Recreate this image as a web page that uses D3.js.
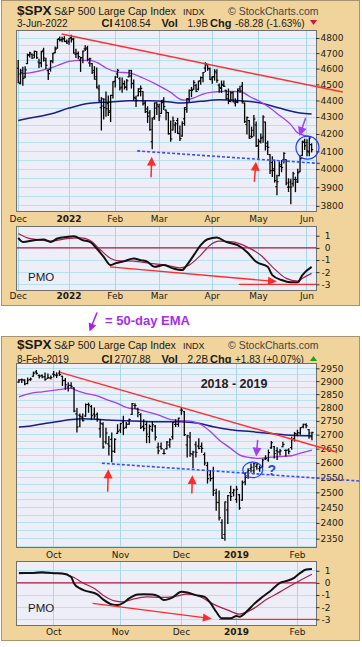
<!DOCTYPE html>
<html>
<head>
<meta charset="utf-8">
<script src="https://cdn.jsdelivr.net/npm/d3@7"></script>
<style>
  body { margin: 0; background: #fff; }
  svg { display: block; }
</style>
</head>
<body>
<svg id="chart" width="362" height="647"></svg>
<script>
// ---- 2022 chart: daily OHLC, 1-Dec-2021 .. 3-Jun-2022 (trading-day index 0..127)
const topOpen = [4602,4505,4589,4548,4632,4690,4691,4687,4711,4642,4637,4719,4653,4587,4595,4645,4704,4733,4796,4789,4795,4776,
  4778,4804,4788,4693,4698,4655,4670,4728,4734,4637,4632,4588,4548,4472,4357,4367,4408,4381,4337,4431,
  4519,4566,4535,4483,4505,4481,4548,4553,4506,4413,4429,4455,4456,4385,4332,4325,4155,4298,4354,
  4363,4322,4401,4342,4327,4202,4223,4252,4279,4202,4188,4289,4345,4407,4462,4469,4493,4470,4523,4542,4603,4624,4600,
  4540,4548,4573,4495,4475,4494,4463,4437,4395,4449,4385,4390,4473,4489,4385,4256,4279,4187,4222,4253,
  4131,4159,4181,4270,4129,4081,4036,3991,3903,3963,4014,4052,4052,3900,3928,3919,3942,3929,3985,4077,4151,
  4150,4096,4138];
const topHigh = [4652,4595,4608,4612,4694,4705,4695,4713,4711,4660,4712,4732,4666,4592,4651,4699,4740,4791,4807,4805,4809,4787,
  4797,4819,4798,4726,4708,4673,4714,4749,4745,4666,4632,4612,4603,4495,4418,4411,4453,4428,4432,4516,
  4550,4595,4542,4540,4521,4531,4590,4589,4527,4426,4473,4490,4456,4395,4362,4339,4294,4385,4388,
  4378,4401,4417,4342,4327,4277,4300,4268,4292,4247,4272,4357,4412,4465,4481,4522,4501,4520,4546,4575,4637,4627,4603,
  4550,4593,4593,4503,4521,4521,4464,4471,4453,4452,4411,4471,4489,4512,4385,4300,4279,4240,4309,4270,
  4169,4200,4308,4270,4158,4081,4069,4050,3965,4039,4047,4091,4052,3946,3943,3982,3955,3999,4075,4158,4169,
  4166,4177,4143];
const topLow = [4510,4504,4495,4541,4632,4675,4665,4670,4666,4607,4611,4648,4600,4531,4584,4638,4703,4733,4780,4775,4776,4765,
  4758,4774,4700,4671,4663,4582,4638,4717,4650,4615,4568,4533,4477,4396,4223,4288,4305,4309,4273,4415,
  4484,4544,4465,4451,4471,4465,4548,4477,4402,4364,4429,4429,4373,4328,4268,4222,4115,4287,4315,
  4279,4322,4345,4284,4199,4157,4223,4209,4202,4162,4187,4251,4329,4390,4424,4469,4456,4465,4501,4517,4582,4589,4530,
  4507,4527,4514,4451,4450,4487,4408,4381,4392,4392,4367,4387,4452,4385,4268,4200,4175,4178,4188,4128,
  4062,4147,4152,4107,4082,3975,3959,3928,3859,3963,3985,4034,3913,3877,3811,3906,3876,3925,3985,4077,4110,
  4074,4074,4096];
const topClose = [4513,4577,4538,4592,4686,4701,4668,4712,4669,4634,4710,4668,4621,4568,4650,4697,4726,4791,4786,4793,4778,4766,
  4797,4794,4701,4696,4677,4670,4713,4726,4660,4663,4577,4533,4483,4398,4410,4357,4350,4327,4432,4516,
  4546,4589,4477,4501,4484,4522,4587,4504,4419,4402,4472,4475,4380,4349,4305,4226,4288,4385,4374,
  4306,4387,4363,4329,4201,4171,4278,4260,4204,4173,4262,4357,4412,4463,4461,4512,4456,4520,4543,4575,4632,4602,4530,
  4546,4583,4526,4481,4501,4488,4413,4397,4447,4393,4392,4463,4459,4394,4272,4297,4175,4184,4288,4132,
  4155,4175,4300,4147,4123,3991,4001,3936,3930,4024,4008,4088,3923,3901,3901,3974,3941,3979,4058,4158,4132,
  4101,4176,4109];

const topTickLabels = ['Dec', '2022', 'Feb', 'Mar', 'Apr', 'May', 'Jun'];
const topTickIdx = [0, 22, 42, 61, 84, 104, 125];
const topPriceTicks = [3800, 3900, 4000, 4100, 4200, 4300, 4400, 4500, 4600, 4700, 4800];

// overlays (index, value)
const topEmaIdx = [0,5,14,18,22,27,31,34,38,43,48,54,60,66,70,72,76,80,84,89,93,97,100,105,109,113,118,121,127];
const topEmaVal = [4565,4572,4604,4625,4647,4653,4653,4640,4604,4578,4572,4540,4498,4450,4409,4402,4416,4440,4452,4457,4457,4451,4426,4391,4354,4311,4255,4206,4182];
const topSmaIdx = [0,5,14,22,31,40,48,57,66,70,79,87,96,105,113,122,127];
const topSmaVal = [4280,4294,4318,4354,4383,4391,4399,4399,4391,4385,4395,4405,4399,4385,4354,4324,4318];
const topPmoIdx = [0,2,7,11,14,17,21,24,28,31,34,37,40,42,46,50,53,56,59,63,67,71,73,76,79,82,86,90,95,99,103,108,110,114,118,121,123,127];
const topPmoVal = [0.82,0.49,0.63,0.69,0.49,0.77,0.9,0.96,0.63,0.49,-0.05,-0.74,-1.42,-1.28,-1.09,-0.87,-1.01,-1.15,-1.56,-1.42,
  -1.69,-1.83,-1.42,-0.6,0.22,0.71,0.85,0.49,0.22,-0.33,-1.15,-1.56,-2.24,-2.65,-2.84,-2.84,-2.24,-1.56];
const topSigIdx = [0,4,8,14,21,27,31,35,40,44,50,57,64,70,74,79,83,87,93,99,105,110,116,121,123,127];
const topSigVal = [1.18,0.82,0.69,0.55,0.77,0.82,0.63,-0.05,-0.87,-1.07,-1.09,-1.28,-1.42,-1.64,-1.42,-0.6,0.22,0.55,0.49,0.08,-0.6,-1.56,-2.51,-2.73,-2.51,-2.1];

// ---- 2018-2019 chart: daily OHLC, 13-Sep-2018 .. 8-Feb-2019 (index 0..101)
const botOpen = [2896,2906,2904,2891,2906,2919,2936,2922,2922,2917,2911,2911,
  2927,2923,2931,2919,2903,2877,2883,2874,2776,2771,2764,2768,2811,2803,2775,2774,2721,2738,2674,2667,2683,2641,2705,
  2717,2746,2727,2738,2774,2807,2794,2773,2730,2737,2693,2718,2731,2655,2657,2633,2650,2663,2692,2737,2737,
  2790,2784,2663,2691,2630,2664,2659,2658,2629,2591,2559,2548,2497,2466,2401,2363,2442,2499,2499,
  2477,2492,2474,2535,2568,2580,2573,2588,2580,2585,2614,2610,2653,2657,2643,2638,2657,2644,2645,2654,2686,
  2702,2706,2728,2736,2718,2692];
const botHigh = [2906,2908,2905,2912,2912,2935,2941,2924,2924,2932,2928,2920,
  2937,2932,2940,2919,2910,2894,2894,2874,2796,2775,2775,2813,2816,2807,2798,2779,2754,2743,2723,2693,2706,2685,2736,
  2741,2767,2744,2757,2815,2814,2797,2776,2754,2747,2735,2747,2733,2670,2670,2647,2675,2685,2744,2754,2760,
  2800,2785,2698,2708,2641,2674,2685,2670,2635,2602,2573,2585,2510,2504,2410,2468,2489,2520,2510,
  2520,2493,2538,2566,2580,2596,2598,2596,2589,2613,2625,2645,2675,2658,2653,2647,2673,2645,2650,2691,2708,
  2716,2725,2738,2740,2719,2709];
const botLow = [2896,2895,2886,2890,2903,2919,2928,2912,2913,2903,2910,2908,
  2917,2914,2922,2883,2869,2862,2874,2784,2710,2729,2750,2767,2782,2756,2760,2749,2691,2651,2667,2628,2604,2636,2705,
  2708,2700,2724,2738,2774,2795,2765,2722,2714,2671,2671,2712,2681,2632,2649,2631,2649,2655,2684,2730,2730,
  2774,2697,2621,2623,2583,2621,2650,2637,2593,2531,2538,2489,2441,2409,2351,2345,2398,2473,2488,
  2467,2444,2474,2525,2547,2569,2563,2578,2571,2585,2612,2606,2651,2617,2612,2628,2657,2624,2632,2648,2677,
  2696,2701,2725,2725,2687,2682];
const botClose = [2904,2905,2889,2904,2908,2931,2930,2919,2916,2906,2914,2914,
  2925,2923,2926,2902,2886,2884,2880,2786,2728,2767,2751,2810,2809,2769,2768,2756,2741,2656,2706,2659,2641,2683,2712,
  2740,2723,2738,2755,2814,2807,2781,2726,2722,2702,2730,2736,2691,2642,2650,2633,2673,2682,2744,2738,2760,
  2790,2700,2696,2633,2638,2637,2651,2651,2600,2546,2546,2507,2467,2417,2351,2468,2489,2486,2507,
  2510,2448,2532,2550,2574,2585,2597,2596,2583,2610,2616,2636,2671,2633,2639,2642,2665,2644,2640,2681,2704,
  2707,2725,2738,2732,2706,2708];

const botTickLabels = ['Oct', 'Nov', 'Dec', '2019', 'Feb'];
const botTickIdx = [12, 35, 56, 75, 96];
const botPriceTicks = [2350, 2400, 2450, 2500, 2550, 2600, 2650, 2700, 2750, 2800, 2850, 2900, 2950];

const botEmaIdx = [0,4,8,13,18,20,23,27,30,34,37,41,44,48,52,56,60,63,66,69,73,76,80,83,87,90,94,97,101];
const botEmaVal = [2840,2853,2859,2866,2872,2863,2853,2843,2830,2815,2800,2793,2784,2772,2756,2751,2747,2735,2711,2681,2651,2628,2618,2616,2620,2622,2625,2634,2645];
const botSmaIdx = [0,4,8,13,18,22,27,31,39,48,56,62,67,73,80,87,92,101];
const botSmaVal = [2728,2731,2739,2747,2755,2758,2756,2753,2750,2747,2747,2741,2729,2718,2711,2704,2699,2696];
const botPmoIdx = [0,5,8,12,15,18,19,21,23,27,29,32,34,36,38,41,43,46,48,50,53,56,58,61,64,66,68,70,73,75,76,79,81,84,87,90,92,95,97,99,101];
const botPmoVal = [0.82,0.82,0.88,0.8,0.77,0.49,-0.05,-0.46,-0.66,-0.95,-1.36,-1.77,-1.83,-1.64,-1.28,-0.95,-0.93,-0.95,-1.09,-1.42,
  -1.2,-0.74,-0.79,-1.01,-1.15,-1.64,-2.38,-2.92,-2.92,-2.73,-2.79,-2.24,-1.75,-1.15,-0.6,0,0.14,0.44,0.82,1.1,1.15];
const botSigIdx = [0,8,15,19,22,26,29,33,36,39,44,49,53,58,62,67,72,76,81,85,90,95,101];
const botSigVal = [0.77,0.82,0.77,0.44,0,-0.46,-1.01,-1.48,-1.56,-1.36,-1.15,-1.2,-1.15,-0.93,-1.09,-1.75,-2.24,-2.57,-2.1,-1.42,-0.74,-0.05,0.71];

const pmoTicks = [1, 0, -1, -2, -3];

const TAN = '#f0d49b', FRAME = '#a89370', PLOT_BG = '#eeeef8', GRID = '#b4e2ef', VGRID = '#a8d8e8';
const BORDER = '#707070', NAVY = '#1c1c8a', PURPLE = '#a040f0', RED = '#ff2a2a', MAROON = '#a8204c';
const HEAD_FONT = '"Liberation Sans", Arial, sans-serif';
const AXIS_FONT = '"DejaVu Sans", Verdana, sans-serif';
const PL = 17, PR = 316;

const svg = d3.select('#chart');

function arrow(g, x1, y1, x2, y2, color, headLen, headW, sw) {
  const len = Math.hypot(x2 - x1, y2 - y1);
  const ux = (x2 - x1) / len, uy = (y2 - y1) / len;
  const bx = x2 - ux * headLen, by = y2 - uy * headLen;
  g.append('line').attr('x1', x1).attr('y1', y1).attr('x2', bx + ux).attr('y2', by + uy)
    .attr('stroke', color).attr('stroke-width', sw);
  g.append('polygon')
    .attr('points', [[x2, y2], [bx - uy * headW / 2, by + ux * headW / 2], [bx + uy * headW / 2, by - ux * headW / 2]].join(' '))
    .attr('fill', color);
}

function drawPanel(p) {
  const x = d3.scaleLinear().domain(p.xDomain).range([PL, PR]);
  const y = d3.scaleLog().domain(p.yDomain).range([p.priceBot, p.priceTop]);
  const yp = d3.scaleLinear().domain([-3.47, 1.72]).range([p.pmoBot, p.pmoTop]);
  const g = svg.append('g');

  g.append('rect').attr('x', 1.5).attr('y', p.top + 0.5).attr('width', 358).attr('height', p.bottom - p.top)
    .attr('fill', TAN).attr('stroke', FRAME);

  // header lines
  const h = g.append('g').attr('font-family', HEAD_FONT).attr('fill', '#1a1a1a');
  h.append('text').attr('x', 17).attr('y', p.head1).attr('font-size', 13.5).attr('font-weight', 'bold').text('$SPX');
  h.append('text').attr('x', 54).attr('y', p.head1).attr('font-size', 10.5).text('S&P 500 Large Cap Index');
  h.append('text').attr('x', 183).attr('y', p.head1).attr('font-size', 9).text('INDX');
  h.append('text').attr('x', 228).attr('y', p.head1).attr('font-size', 10.5).attr('fill', '#444').text('© StockCharts.com');
  h.append('text').attr('x', 17).attr('y', p.head2).attr('font-size', 10).text(p.date);
  [['Cl', 101.5, p.closeText, 114.5],
   ['Vol', 161.5, p.volText, 187.5],
   ['Chg', 210, p.chgText, 235]].forEach(([lab, lx, val, vx]) => {
    h.append('text').attr('x', lx).attr('y', p.head2).attr('font-size', 11).attr('font-weight', 'bold').text(lab);
    h.append('text').attr('x', vx).attr('y', p.head2).attr('font-size', 10).text(val);
  });
  const ty = p.head2 - 4;
  h.append('polygon')
    .attr('points', p.up ? [[310, ty + 2.5], [317, ty + 2.5], [313.5, ty - 2.5]].join(' ')
                         : [[310, ty - 2.5], [317, ty - 2.5], [313.5, ty + 2.5]].join(' '))
    .attr('fill', p.up ? '#1aa31a' : '#d4143c');

  // price pane
  const pg = g.append('g');
  pg.append('rect').attr('x', PL).attr('y', p.priceTop).attr('width', PR - PL).attr('height', p.priceBot - p.priceTop)
    .attr('fill', PLOT_BG);
  const minor = d3.range(Math.ceil(p.yDomain[0] / p.minorStep) * p.minorStep, p.yDomain[1], p.minorStep);
  pg.append('g').attr('stroke', GRID).attr('shape-rendering', 'crispEdges')
    .selectAll('line').data(minor).join('line')
    .attr('x1', PL).attr('x2', PR).attr('y1', d => y(d)).attr('y2', d => y(d));
  pg.append('g').attr('stroke', VGRID).attr('shape-rendering', 'crispEdges')
    .selectAll('line').data(p.tickIdx).join('line')
    .attr('x1', d => x(d)).attr('x2', d => x(d)).attr('y1', p.priceTop).attr('y2', p.priceBot);

  const curve = (xs, ys) => d3.line().x(d => xs(d[0])).y(d => ys(d[1])).curve(d3.curveMonotoneX);
  pg.append('path').datum(d3.zip(p.smaIdx, p.smaVal)).attr('d', curve(x, y))
    .attr('fill', 'none').attr('stroke', NAVY).attr('stroke-width', 1.5);
  pg.append('path').datum(d3.zip(p.emaIdx, p.emaVal)).attr('d', curve(x, y))
    .attr('fill', 'none').attr('stroke', PURPLE).attr('stroke-width', 1.3);

  const bars = pg.append('g').attr('stroke', '#000');
  bars.selectAll('line.hl').data(p.close).join('line').attr('class', 'hl').attr('stroke-width', 1.3)
    .attr('x1', (d, i) => x(i)).attr('x2', (d, i) => x(i))
    .attr('y1', (d, i) => y(p.high[i]) - 0.5).attr('y2', (d, i) => y(p.low[i]) + 0.5);
  bars.selectAll('line.op').data(p.open).join('line').attr('class', 'op').attr('stroke-width', 1.1)
    .attr('x1', (d, i) => x(i) - 1.6).attr('x2', (d, i) => x(i)).attr('y1', d => y(d)).attr('y2', d => y(d));
  bars.selectAll('line.cl').data(p.close).join('line').attr('class', 'cl').attr('stroke-width', 1.1)
    .attr('x1', (d, i) => x(i)).attr('x2', (d, i) => x(i) + 1.6).attr('y1', d => y(d)).attr('y2', d => y(d));

  pg.append('rect').attr('x', PL - 0.5).attr('y', p.priceTop - 0.5).attr('width', PR - PL + 1).attr('height', p.priceBot - p.priceTop + 1)
    .attr('fill', 'none').attr('stroke', BORDER);

  const ay = g.append('g').attr('transform', `translate(${PR},0)`)
    .call(d3.axisRight(y).tickValues(p.priceTicks).tickFormat(d => String(d)).tickSizeInner(3.5).tickSizeOuter(0).tickPadding(1));
  ay.select('.domain').remove();
  ay.selectAll('line').attr('stroke', '#333');
  ay.selectAll('text').attr('font-family', AXIS_FONT).attr('font-size', 9).attr('fill', '#1a1a1a');

  // month labels
  [p.midLabel, p.botLabel].forEach(ly => {
    g.append('g').selectAll('text').data(p.tickLabels).join('text')
      .attr('x', (d, i) => x(p.tickIdx[i])).attr('y', ly).attr('text-anchor', 'middle')
      .attr('font-family', AXIS_FONT).attr('font-size', 9).attr('fill', '#1a1a1a')
      .attr('font-weight', d => /^\d{4}$/.test(d) ? 'bold' : 'normal')
      .text(d => d);
  });

  // PMO pane
  const mg = g.append('g');
  mg.append('rect').attr('x', PL).attr('y', p.pmoTop).attr('width', PR - PL).attr('height', p.pmoBot - p.pmoTop)
    .attr('fill', PLOT_BG);
  mg.append('g').attr('stroke', GRID).attr('shape-rendering', 'crispEdges')
    .selectAll('line').data(pmoTicks.filter(d => d !== 0)).join('line')
    .attr('x1', PL).attr('x2', PR).attr('y1', d => yp(d)).attr('y2', d => yp(d));
  mg.append('g').attr('stroke', VGRID).attr('shape-rendering', 'crispEdges')
    .selectAll('line').data(p.tickIdx).join('line')
    .attr('x1', d => x(d)).attr('x2', d => x(d)).attr('y1', p.pmoTop).attr('y2', p.pmoBot);
  mg.append('line').attr('x1', PL).attr('x2', PR).attr('y1', yp(0)).attr('y2', yp(0))
    .attr('stroke', '#b0103c').attr('stroke-width', 1.2);
  mg.append('line').attr('x1', x(p.floorFrom)).attr('x2', PR).attr('y1', yp(-3)).attr('y2', yp(-3))
    .attr('stroke', RED).attr('stroke-width', 1.3);
  mg.append('path').datum(d3.zip(p.sigIdx, p.sigVal)).attr('d', curve(x, yp))
    .attr('fill', 'none').attr('stroke', MAROON).attr('stroke-width', 1.2);
  mg.append('path').datum(d3.zip(p.pmoIdx, p.pmoVal)).attr('d', curve(x, yp))
    .attr('fill', 'none').attr('stroke', '#111').attr('stroke-width', 2);
  arrow(mg, x(p.pmoArrow[0]), yp(p.pmoArrow[1]), x(p.pmoArrow[2]), yp(p.pmoArrow[3]), RED, 9, 8, 1.3);
  mg.append('rect').attr('x', PL - 0.5).attr('y', p.pmoTop - 0.5).attr('width', PR - PL + 1).attr('height', p.pmoBot - p.pmoTop + 1)
    .attr('fill', 'none').attr('stroke', BORDER);
  mg.append('text').attr('x', 28).attr('y', p.pmoLabelY).attr('font-family', HEAD_FONT).attr('font-size', 11.5)
    .attr('fill', '#1a1a1a').text('PMO');

  const ap = g.append('g').attr('transform', `translate(${PR},0)`)
    .call(d3.axisRight(yp).tickValues(pmoTicks).tickFormat(d => String(d)).tickSizeInner(3.5).tickSizeOuter(0).tickPadding(1));
  ap.select('.domain').remove();
  ap.selectAll('line').attr('stroke', '#333');
  ap.selectAll('text').attr('font-family', AXIS_FONT).attr('font-size', 9).attr('fill', '#1a1a1a')
    .attr('text-anchor', 'end').attr('x', 14.5);

  // annotations
  const an = g.append('g');
  an.append('line').attr('x1', x(p.redLine[0])).attr('y1', y(p.redLine[1])).attr('x2', x(p.redLine[2])).attr('y2', y(p.redLine[3]))
    .attr('stroke', '#ff3030').attr('stroke-width', 1.5);
  an.append('line').attr('x1', x(p.blueLine[0])).attr('y1', y(p.blueLine[1])).attr('x2', x(p.blueLine[2])).attr('y2', y(p.blueLine[3]))
    .attr('stroke', '#3a4cff').attr('stroke-width', 1.6).attr('stroke-dasharray', '3,2');
  p.upArrows.forEach(a => arrow(an, x(a[0]), y(a[1]), x(a[2]), y(a[3]), RED, 9, 9, 1.5));
  arrow(an, x(p.purpleArrow[0]), y(p.purpleArrow[1]), x(p.purpleArrow[2]), y(p.purpleArrow[3]), PURPLE, 9, 9, 1.5);
  an.append('ellipse').attr('cx', x(p.ring[0])).attr('cy', y(p.ring[1])).attr('rx', p.ring[2]).attr('ry', p.ring[3])
    .attr('fill', 'none').attr('stroke', '#1f3cff').attr('stroke-width', 1.2);

  return { x, y, g };
}

drawPanel({
  top: 0, bottom: 305, head1: 15, head2: 26.5, priceTop: 31, priceBot: 211, midLabel: 222,
  pmoTop: 227, pmoBot: 290, botLabel: 298.5, pmoLabelY: 281,
  xDomain: [-0.52, 128.9], yDomain: [3773, 4847], minorStep: 50,
  date: '3-Jun-2022', closeText: '4108.54', volText: '1.9B', chgText: '-68.28 (-1.63%)', up: false,
  open: topOpen, high: topHigh, low: topLow, close: topClose,
  tickLabels: topTickLabels, tickIdx: topTickIdx, priceTicks: topPriceTicks,
  emaIdx: topEmaIdx, emaVal: topEmaVal, smaIdx: topSmaIdx, smaVal: topSmaVal,
  pmoIdx: topPmoIdx, pmoVal: topPmoVal, sigIdx: topSigIdx, sigVal: topSigVal,
  floorFrom: 95.5, pmoArrow: [39.7, -1.56, 112, -2.78],
  redLine: [18.8, 4827, 140.5, 4452], blueLine: [51.5, 4102, 130.6, 4031],
  upArrows: [[57.5, 3954, 57.8, 4069], [102.2, 3930, 102.9, 4041]],
  purpleArrow: [124.4, 4294, 121.7, 4188], ring: [125.2, 4121, 11.5, 11.5]
});

const bottom = drawPanel({
  top: 336, bottom: 640, head1: 349, head2: 362.5, priceTop: 364, priceBot: 547, midLabel: 557.5,
  pmoTop: 562, pmoBot: 625, botLabel: 635, pmoLabelY: 611.5,
  xDomain: [-0.66, 102.4], yDomain: [2324, 2967], minorStep: 25,
  date: '8-Feb-2019', closeText: '2707.88', volText: '2.2B', chgText: '+1.83 (+0.07%)', up: true,
  open: botOpen, high: botHigh, low: botLow, close: botClose,
  tickLabels: botTickLabels, tickIdx: botTickIdx, priceTicks: botPriceTicks,
  emaIdx: botEmaIdx, emaVal: botEmaVal, smaIdx: botSmaIdx, smaVal: botSmaVal,
  pmoIdx: botPmoIdx, pmoVal: botPmoVal, sigIdx: botSigIdx, sigVal: botSigVal,
  floorFrom: 69, pmoArrow: [25.4, -1.69, 66.5, -2.95],
  redLine: [14.2, 2934, 109.7, 2637], blueLine: [28.6, 2599, 117.3, 2538],
  upArrows: [[30.6, 2502, 30.8, 2578], [59.6, 2496, 59.8, 2558]],
  purpleArrow: [82.3, 2681, 81.8, 2622], ring: [80.6, 2576, 10, 7.8]
});

bottom.g.append('text').attr('x', 234).attr('y', 388).attr('text-anchor', 'middle')
  .attr('font-family', HEAD_FONT).attr('font-size', 12.5).attr('font-weight', 'bold').attr('fill', '#222')
  .text('2018 - 2019');
bottom.g.append('text').attr('x', 267.5).attr('y', 474.5)
  .attr('font-family', HEAD_FONT).attr('font-size', 14).attr('font-weight', 'bold').attr('fill', '#2845e6')
  .text('?');

// legend note between the two charts
const note = svg.append('g');
arrow(note, 97, 312.5, 89.5, 331.5, '#a020f0', 8, 8, 1.5);
note.append('text').attr('x', 105).attr('y', 325).attr('font-family', HEAD_FONT).attr('font-size', 13)
  .attr('font-weight', 'bold').attr('fill', '#a62cf0').text('= 50-day EMA');
</script>
</body>
</html>
